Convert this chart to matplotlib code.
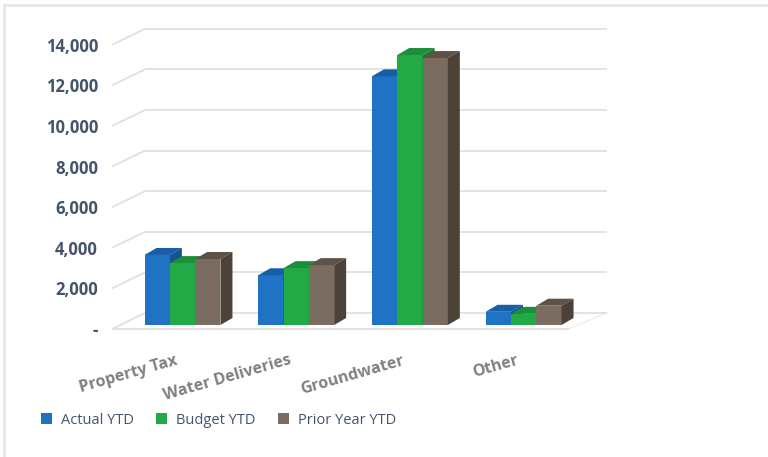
"""
Revenue comparison: Actual vs Budget vs Prior Year YTD, drawn as
pseudo-3D clustered columns (front face + top + side).
"""

import matplotlib
matplotlib.use("Agg")
import matplotlib.pyplot as plt
from matplotlib.patches import Polygon, Patch
from matplotlib.lines import Line2D
from matplotlib.transforms import ScaledTranslation


categories = ["Property Tax", "Water Deliveries", "Groundwater", "Other"]
series_names = ["Actual YTD", "Budget YTD", "Prior Year YTD"]
actual_ytd = [3450, 2450, 12250, 650]
budget_ytd = [3050, 2800, 13300, 550]
prior_ytd = [3250, 2950, 13150, 950]
y_ticks = [0, 2000, 4000, 6000, 8000, 10000, 12000, 14000]
y_tick_labels = ["-", "2,000", "4,000", "6,000", "8,000", "10,000", "12,000", "14,000"]

# face colours: front, top, side
COLORS = [
    ("#1F72C4", "#175EA8", "#145293"),
    ("#22AA46", "#1C8F3A", "#187C32"),
    ("#7A6C60", "#5E5145", "#4D4238"),
]
LABEL_COLOR = "#44546A"
CAT_COLOR = "#808080"
GRID_COLOR = "#E0E0E0"

plt.rcParams["font.family"] = ["Open Sans", "DejaVu Sans"]

W, H, DPI = 768, 457, 100
fig = plt.figure(figsize=(W / DPI, H / DPI), dpi=DPI)

# axes box in pixels
AX_L, AX_R, AX_T, AX_B = 112, 620, 15, 340
ax = fig.add_axes([AX_L / W, (H - AX_B) / H, (AX_R - AX_L) / W, (AX_B - AX_T) / H])

PX_PER_CAT = 113.7          # pixels between category centres
PX_PER_UNIT = 0.0203        # pixels per revenue unit
CAT0_PX = 182.5             # pixel x of first category centre
BASE_PX = 325               # pixel y of bar base

ux = 1.0 / PX_PER_CAT       # one pixel in x data units
uy = 1.0 / PX_PER_UNIT      # one pixel in y data units

ax.set_xlim(-(CAT0_PX - AX_L) * ux, -(CAT0_PX - AX_L) * ux + (AX_R - AX_L) * ux)
ax.set_ylim(-(AX_B - BASE_PX) * uy, (BASE_PX - AX_T) * uy)

# back wall / side wall gridlines
BACK_DX, BACK_DY = 33 * ux, 12 * uy      # back plane offset from bar plane
FRONT_DY = -4 * uy                       # front plane (labels) offset
left_front = -(CAT0_PX - AX_L) * ux
right_back = (607 - CAT0_PX) * ux
right_front = (568 - CAT0_PX) * ux
for v in y_ticks:
    ax.plot([left_front, left_front + BACK_DX], [v + FRONT_DY, v + BACK_DY],
            color=GRID_COLOR, lw=1.3, zorder=1, solid_capstyle="butt")
    ax.plot([left_front + BACK_DX, right_back], [v + BACK_DY, v + BACK_DY],
            color=GRID_COLOR, lw=1.3, zorder=1, solid_capstyle="butt")
# floor front edge
ax.plot([left_front, right_front], [FRONT_DY, FRONT_DY], color=GRID_COLOR, lw=1.3, zorder=1)
ax.plot([right_front, right_back], [FRONT_DY, BACK_DY], color=GRID_COLOR, lw=1.0, zorder=1, alpha=0.5)

# bars
bar_w = 25.3 * ux
dx, dy = 12 * ux, 7 * uy
all_series = [actual_ytd, budget_ytd, prior_ytd]
z = 3
for ci in range(len(categories)):
    for si, values in enumerate(all_series):
        front, top, side = COLORS[si]
        h = values[ci]
        x0 = ci + (si - 1) * bar_w - bar_w / 2
        x1 = x0 + bar_w
        ax.bar(x0, h, width=bar_w, align="edge", color=front, zorder=z, linewidth=0)
        ax.add_patch(Polygon([(x0, h), (x0 + dx, h + dy), (x1 + dx, h + dy), (x1, h)],
                             closed=True, facecolor=top, edgecolor="none", zorder=z))
        ax.add_patch(Polygon([(x1, 0), (x1 + dx, dy), (x1 + dx, h + dy), (x1, h)],
                             closed=True, facecolor=side, edgecolor="none", zorder=z))
        z += 1

# y tick labels on the front plane
ax.set_yticks(y_ticks)
ax.set_yticklabels(y_tick_labels, fontsize=12, fontweight="bold", color=LABEL_COLOR)
ax.tick_params(axis="y", length=0, pad=10)
for lab in ax.get_yticklabels():
    lab.set_transform(lab.get_transform() + ScaledTranslation(0, -4 / DPI, fig.dpi_scale_trans))

# category labels, slanted
ax.set_xticks(range(len(categories)))
ax.set_xticklabels(categories, rotation=16, ha="right", va="top", rotation_mode="anchor",
                   fontsize=11.5, fontweight="bold", color=CAT_COLOR)
ax.tick_params(axis="x", length=0, pad=9)
for lab in ax.get_xticklabels():
    lab.set_transform(lab.get_transform() + ScaledTranslation(-8 / DPI, 0, fig.dpi_scale_trans))

for s in ax.spines.values():
    s.set_visible(False)
ax.patch.set_alpha(0)

# legend
handles = [Patch(facecolor=c[0], edgecolor="none") for c in COLORS]
leg = fig.legend(handles, series_names, loc="center left", bbox_to_anchor=(28 / W, 1 - 420 / H),
                 ncol=3, frameon=False, handlelength=0.75, handleheight=0.75,
                 handletextpad=0.6, columnspacing=1.55, fontsize=10.5)
for t in leg.get_texts():
    t.set_color(LABEL_COLOR)

# light frame (only top and left edges are inside the picture)
fig.add_artist(Line2D([4 / W, 4 / W], [0, 1 - 5 / H], color="#E4E6EB", lw=2))
fig.add_artist(Line2D([4 / W, 1], [1 - 5 / H, 1 - 5 / H], color="#E4E6EB", lw=2))

fig.savefig("out.png", dpi=DPI)
plt.close(fig)
